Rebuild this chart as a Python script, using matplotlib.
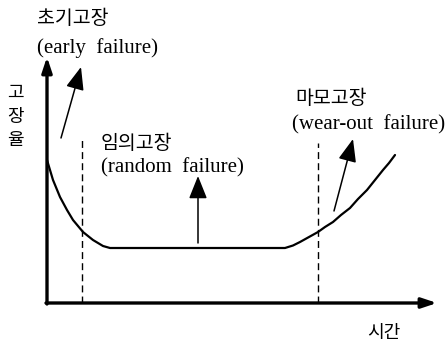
import matplotlib.pyplot as plt
import numpy as np

# bathtub curve (time, failure rate)
early_t = [0, 6, 13, 20, 26, 36, 46, 56, 63]
early_r = [143, 123, 106, 93, 83, 71, 63, 57, 55]
flat_t = [63, 238]
flat_r = [55, 55]
wear_t = [238, 246, 253, 262, 271, 278, 286, 294, 303, 311, 320, 328, 336, 342, 348]
wear_r = [55, 57.5, 61, 66, 71, 76, 81, 88, 95, 104, 113, 123, 133, 140, 148]

# period borders
border_t = [35, 271]
border_top = [163, 160]

kr = ['Noto Sans CJK KR', 'DejaVu Sans']
en = 'Liberation Serif'

fig = plt.figure(figsize=(4.48, 3.47), dpi=100)
ax = fig.add_axes([0, 0, 1, 1])
ax.set_xlim(-47, 401)
ax.set_ylim(-44, 303)
ax.axis('off')

t = early_t + flat_t[1:] + wear_t[1:]
r = early_r + flat_r[1:] + wear_r[1:]
ax.plot(t, r, color='black', lw=1.6, solid_capstyle='round')

for bt, top in zip(border_t, border_top):
    ax.plot([bt, bt], [0, top], color='black', lw=1.0, ls=(0, (5, 3)))

# axes with arrow heads
ax.annotate('', xy=(0, 246), xytext=(0, -1),
            arrowprops=dict(arrowstyle='-|>,head_length=0.9,head_width=0.3',
                            color='black', lw=2.4, shrinkA=0, shrinkB=0))
ax.annotate('', xy=(390, 0), xytext=(-1, 0),
            arrowprops=dict(arrowstyle='-|>,head_length=0.9,head_width=0.3',
                            color='black', lw=2.4, shrinkA=0, shrinkB=0))

# pointer arrows
pointers = [((14, 165), (34, 236)), ((151, 60), (151, 127)), ((287, 92), (306, 164))]
for start, tip in pointers:
    ax.annotate('', xy=tip, xytext=start,
                arrowprops=dict(arrowstyle='-|>,head_length=1.0,head_width=0.4',
                                color='black', lw=1.1, mutation_scale=14,
                                shrinkA=0, shrinkB=0))

ax.text(-10, 285, '초기고장', family=kr, fontsize=14, va='center', ha='left')
ax.text(-10, 255, '(early  failure)', family=en, fontsize=15, va='center', ha='left')
ax.text(54, 160, '임의고장', family=kr, fontsize=14, va='center', ha='left')
ax.text(54, 135, '(random  failure)', family=en, fontsize=15, va='center', ha='left')
ax.text(248, 205, '마모고장', family=kr, fontsize=14, va='center', ha='left')
ax.text(245, 178, '(wear-out  failure)', family=en, fontsize=15, va='center', ha='left')
for ch, y in zip(['고', '장', '율'], [210, 186, 163]):
    ax.text(-32, y, ch, family=kr, fontsize=13, va='center', ha='center')
ax.text(337, -30, '시간', family=kr, fontsize=13, va='center', ha='center')

fig.savefig('out.png', dpi=100)
